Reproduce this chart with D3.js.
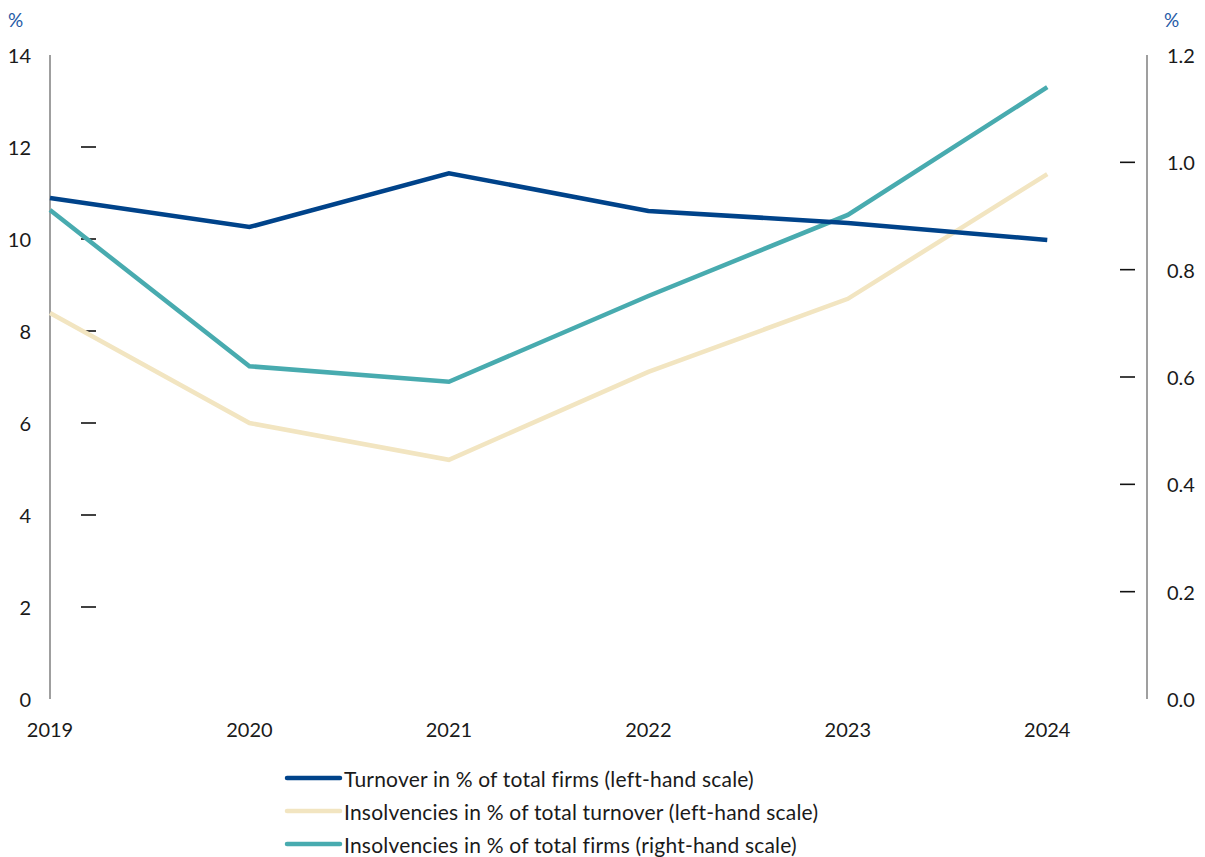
<!DOCTYPE html>
<html>
<head>
<meta charset="utf-8">
<script src="https://cdn.jsdelivr.net/npm/d3@7/dist/d3.min.js"></script>
<style>
  html, body { margin: 0; padding: 0; background: #fff; }
  svg { display: block; font-family: Lato, "Open Sans", sans-serif; }
</style>
</head>
<body>
<svg id="chart" width="1205" height="857"></svg>
<script>
// Years on the horizontal axis
const years = [2019, 2020, 2021, 2022, 2023, 2024];

// Series values (%)
const turnoverShareOfFirms = [10.89, 10.26, 11.43, 10.61, 10.35, 9.98];       // left-hand scale
const insolvencyShareOfTurnover = [8.39, 6.00, 5.20, 7.11, 8.70, 11.41];      // left-hand scale
const insolvencyShareOfFirms = [0.911, 0.620, 0.591, 0.751, 0.902, 1.140];    // right-hand scale

// Tick values
const leftTicks = [0, 2, 4, 6, 8, 10, 12, 14];
const rightTicks = [0.0, 0.2, 0.4, 0.6, 0.8, 1.0, 1.2];

const legendLabels = [
  "Turnover in % of total firms (left-hand scale)",
  "Insolvencies in % of total turnover (left-hand scale)",
  "Insolvencies in % of total firms (right-hand scale)"
];

const colors = ["#00438a", "#f2e5c1", "#48abaf"];

const svg = d3.select("#chart");

const plot = { left: 50, right: 1147, top: 55, bottom: 699 };

const x = d3.scaleLinear().domain([2019, 2024.5]).range([plot.left, plot.right]);
const yLeft = d3.scaleLinear().domain([0, 14]).range([plot.bottom, plot.top]);
const yRight = d3.scaleLinear().domain([0, 1.2]).range([plot.bottom, plot.top]);

// Axis lines
svg.append("line")
  .attr("x1", plot.left).attr("x2", plot.left)
  .attr("y1", plot.top).attr("y2", plot.bottom)
  .attr("stroke", "#7f7f7f").attr("stroke-width", 1.5);
svg.append("line")
  .attr("x1", plot.right).attr("x2", plot.right)
  .attr("y1", plot.top).attr("y2", plot.bottom)
  .attr("stroke", "#7f7f7f").attr("stroke-width", 1.5);

// Left tick labels
svg.append("g").selectAll("text").data(leftTicks).join("text")
  .attr("x", 31).attr("y", d => yLeft(d))
  .attr("text-anchor", "end").attr("dominant-baseline", "central")
  .attr("font-size", 20).attr("fill", "#1a1a1a")
  .text(d => d);

// Left tick marks (detached, inside the plot)
svg.append("g").selectAll("line").data(leftTicks.filter(d => d > 0 && d < 14)).join("line")
  .attr("x1", 81).attr("x2", 96)
  .attr("y1", d => yLeft(d)).attr("y2", d => yLeft(d))
  .attr("stroke", "#111").attr("stroke-width", 1.6);

// Right tick labels
svg.append("g").selectAll("text").data(rightTicks).join("text")
  .attr("x", 1167).attr("y", d => yRight(d))
  .attr("text-anchor", "start").attr("dominant-baseline", "central")
  .attr("font-size", 20).attr("fill", "#1a1a1a")
  .text(d => d3.format(".1f")(d));

// Right tick marks
svg.append("g").selectAll("line").data(rightTicks.filter(d => d > 0 && d < 1.2)).join("line")
  .attr("x1", 1120).attr("x2", 1135)
  .attr("y1", d => yRight(d)).attr("y2", d => yRight(d))
  .attr("stroke", "#111").attr("stroke-width", 1.6);

// Unit labels
svg.append("text").attr("x", 8).attr("y", 27)
  .attr("font-size", 19).attr("fill", "#1f5aa6").text("%");
svg.append("text").attr("x", 1164).attr("y", 27)
  .attr("font-size", 19).attr("fill", "#1f5aa6").text("%");

// Year labels
svg.append("g").selectAll("text").data(years).join("text")
  .attr("x", d => x(d)).attr("y", 729)
  .attr("text-anchor", "middle").attr("dominant-baseline", "central")
  .attr("font-size", 20).attr("fill", "#1a1a1a")
  .text(d => d);

// Lines
const series = [
  { values: turnoverShareOfFirms, y: yLeft, color: colors[0] },
  { values: insolvencyShareOfTurnover, y: yLeft, color: colors[1] },
  { values: insolvencyShareOfFirms, y: yRight, color: colors[2] }
];

// Draw beige first, then teal, then blue on top
[1, 2, 0].forEach(i => {
  const s = series[i];
  const line = d3.line().x((d, j) => x(years[j])).y(d => s.y(d));
  svg.append("path")
    .datum(s.values)
    .attr("d", line)
    .attr("fill", "none")
    .attr("stroke", s.color)
    .attr("stroke-width", 4.5)
    .attr("stroke-linejoin", "miter");
});

// Legend
const legend = svg.append("g");
legendLabels.forEach((label, i) => {
  const yy = 778 + i * 33;
  legend.append("line")
    .attr("x1", 287).attr("x2", 340)
    .attr("y1", yy).attr("y2", yy)
    .attr("stroke", colors[i]).attr("stroke-width", 4.5)
    .attr("stroke-linecap", "round");
  legend.append("text")
    .attr("x", 344).attr("y", yy)
    .attr("dominant-baseline", "central")
    .attr("font-size", 21).attr("letter-spacing", 0.2).attr("fill", "#1a1a1a")
    .text(label);
});
</script>
</body>
</html>
